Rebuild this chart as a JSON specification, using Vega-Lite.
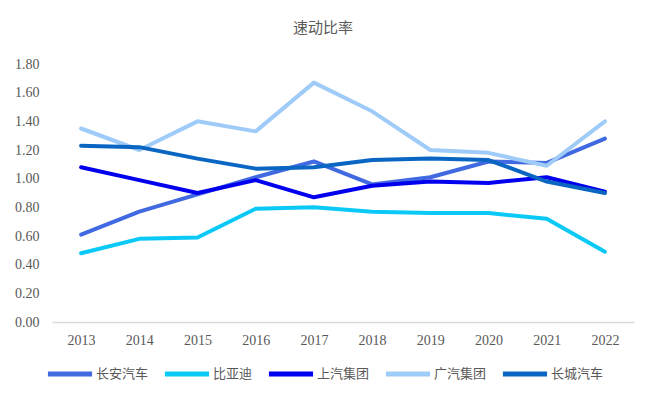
{
  "$schema": "https://vega.github.io/schema/vega-lite/v6.json",
  "autosize": "none",
  "width": 582,
  "height": 258,
  "padding": {"left": 52, "top": 64, "right": 23, "bottom": 79},
  "background": "white",
  "title": {
    "text": "速动比率",
    "font": "Noto Sans CJK SC",
    "fontSize": 15,
    "fontWeight": "normal",
    "color": "#595959",
    "anchor": "middle",
    "frame": "group",
    "dx": -20,
    "offset": 21
  },
  "data": {
    "values": [
      {"year": "2013", "company": "长安汽车", "value": 0.61},
      {"year": "2014", "company": "长安汽车", "value": 0.77},
      {"year": "2015", "company": "长安汽车", "value": 0.89},
      {"year": "2016", "company": "长安汽车", "value": 1.01},
      {"year": "2017", "company": "长安汽车", "value": 1.12},
      {"year": "2018", "company": "长安汽车", "value": 0.96},
      {"year": "2019", "company": "长安汽车", "value": 1.01},
      {"year": "2020", "company": "长安汽车", "value": 1.12},
      {"year": "2021", "company": "长安汽车", "value": 1.11},
      {"year": "2022", "company": "长安汽车", "value": 1.28},
      {"year": "2013", "company": "比亚迪", "value": 0.48},
      {"year": "2014", "company": "比亚迪", "value": 0.58},
      {"year": "2015", "company": "比亚迪", "value": 0.59},
      {"year": "2016", "company": "比亚迪", "value": 0.79},
      {"year": "2017", "company": "比亚迪", "value": 0.80},
      {"year": "2018", "company": "比亚迪", "value": 0.77},
      {"year": "2019", "company": "比亚迪", "value": 0.76},
      {"year": "2020", "company": "比亚迪", "value": 0.76},
      {"year": "2021", "company": "比亚迪", "value": 0.72},
      {"year": "2022", "company": "比亚迪", "value": 0.49},
      {"year": "2013", "company": "上汽集团", "value": 1.08},
      {"year": "2014", "company": "上汽集团", "value": 0.99},
      {"year": "2015", "company": "上汽集团", "value": 0.90},
      {"year": "2016", "company": "上汽集团", "value": 0.99},
      {"year": "2017", "company": "上汽集团", "value": 0.87},
      {"year": "2018", "company": "上汽集团", "value": 0.95},
      {"year": "2019", "company": "上汽集团", "value": 0.98},
      {"year": "2020", "company": "上汽集团", "value": 0.97},
      {"year": "2021", "company": "上汽集团", "value": 1.01},
      {"year": "2022", "company": "上汽集团", "value": 0.91},
      {"year": "2013", "company": "广汽集团", "value": 1.35},
      {"year": "2014", "company": "广汽集团", "value": 1.20},
      {"year": "2015", "company": "广汽集团", "value": 1.40},
      {"year": "2016", "company": "广汽集团", "value": 1.33},
      {"year": "2017", "company": "广汽集团", "value": 1.67},
      {"year": "2018", "company": "广汽集团", "value": 1.47},
      {"year": "2019", "company": "广汽集团", "value": 1.20},
      {"year": "2020", "company": "广汽集团", "value": 1.18},
      {"year": "2021", "company": "广汽集团", "value": 1.09},
      {"year": "2022", "company": "广汽集团", "value": 1.40},
      {"year": "2013", "company": "长城汽车", "value": 1.23},
      {"year": "2014", "company": "长城汽车", "value": 1.22},
      {"year": "2015", "company": "长城汽车", "value": 1.14},
      {"year": "2016", "company": "长城汽车", "value": 1.07},
      {"year": "2017", "company": "长城汽车", "value": 1.08},
      {"year": "2018", "company": "长城汽车", "value": 1.13},
      {"year": "2019", "company": "长城汽车", "value": 1.14},
      {"year": "2020", "company": "长城汽车", "value": 1.13},
      {"year": "2021", "company": "长城汽车", "value": 0.98},
      {"year": "2022", "company": "长城汽车", "value": 0.90}
    ]
  },
  "mark": {"type": "line", "strokeWidth": 4, "strokeCap": "round", "strokeJoin": "round"},
  "encoding": {
    "x": {
      "field": "year",
      "type": "ordinal",
      "scale": {"padding": 0.5},
      "axis": {
        "title": null,
        "labelAngle": 0,
        "labelFont": "Liberation Serif",
        "labelFontSize": 14,
        "labelColor": "#595959",
        "labelPadding": 11,
        "ticks": false,
        "domainColor": "#d9d9d9",
        "domainWidth": 1.5,
        "grid": false
      }
    },
    "y": {
      "field": "value",
      "type": "quantitative",
      "scale": {"domain": [0, 1.8], "nice": false},
      "axis": {
        "title": null,
        "values": [0, 0.2, 0.4, 0.6, 0.8, 1.0, 1.2, 1.4, 1.6, 1.8],
        "format": ".2f",
        "labelFont": "Liberation Serif",
        "labelFontSize": 14,
        "labelColor": "#595959",
        "labelPadding": 13,
        "ticks": false,
        "domain": false,
        "grid": false
      }
    },
    "color": {
      "field": "company",
      "type": "nominal",
      "scale": {
        "domain": ["长安汽车", "比亚迪", "上汽集团", "广汽集团", "长城汽车"],
        "range": ["#4169E1", "#0BC9F6", "#0000EE", "#9FCBF8", "#0A66C2"]
      },
      "legend": {
        "title": null,
        "orient": "none",
        "direction": "horizontal",
        "legendX": -7,
        "legendY": 285,
        "symbolType": "stroke",
        "symbolSize": 1950,
        "symbolStrokeWidth": 5,
        "labelFont": "Noto Sans CJK SC",
        "labelFontSize": 13,
        "labelColor": "#595959",
        "labelOffset": 1,
        "columnPadding": 5
      }
    },
    "order": {"field": "year"}
  },
  "config": {"view": {"stroke": null}}
}
